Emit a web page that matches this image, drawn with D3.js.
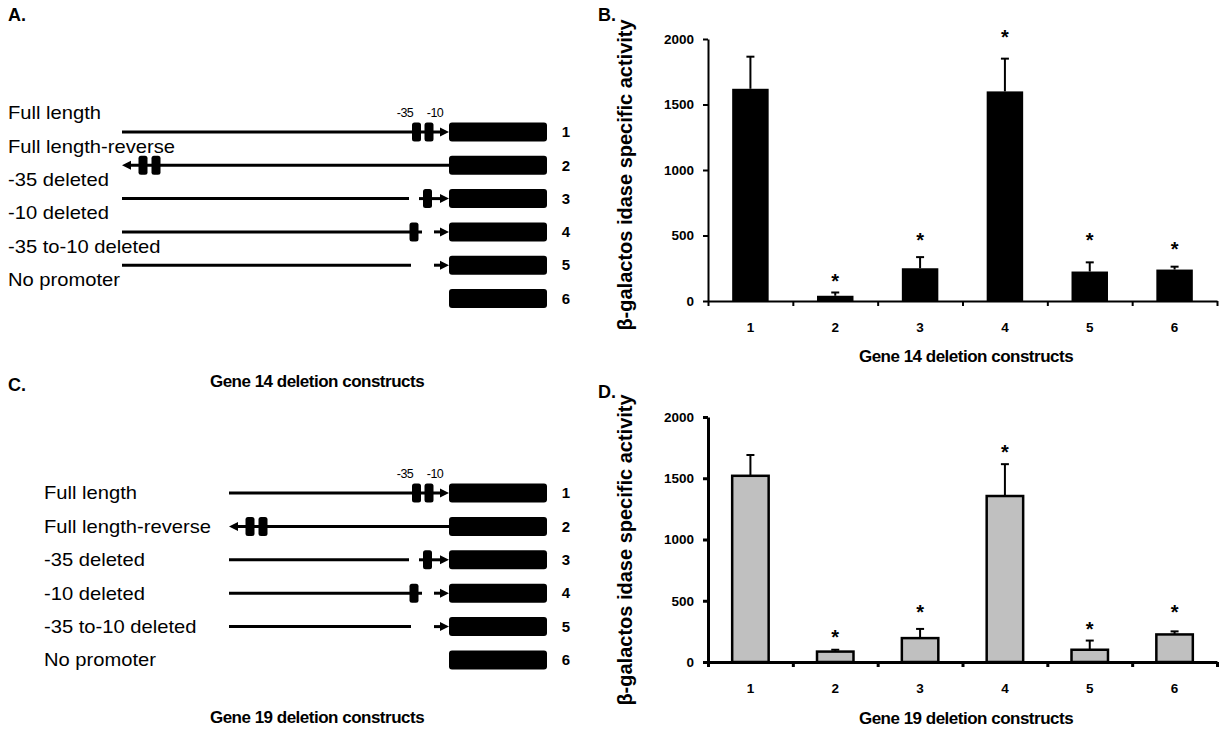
<!DOCTYPE html>
<html>
<head>
<meta charset="utf-8">
<script src="https://cdn.jsdelivr.net/npm/d3@7"></script>
<style>
  body { margin: 0; background: #fff; }
  svg { display: block; }
  text { font-family: "Liberation Sans", Arial, sans-serif; fill: #000; }
</style>
</head>
<body>
<svg id="fig" width="1225" height="729"></svg>
<script>
// construct diagrams (positions in units relative to reporter start)
let constructNames = ['Full length', 'Full length-reverse', '-35 deleted', '-10 deleted', '-35 to-10 deleted', 'No promoter']
let constructIds = ['1', '2', '3', '4', '5', '6']
let upstreamEnd = [0, 0, -40, -27, -38, null]
let stubStart = [null, null, -30, -15, -15, null]
let motifCenters = [[-32.5, -20], [], [-21.5], [-35], [], []]
let reverseMotifOffsets = [21, 34]
let pointsRight = [true, false, true, true, true, false]
let motifLabels = ['-35', '-10']
let motifLabelPos = [-44, -14]
let reporterLen = 98

// bar charts
let categories = ['1', '2', '3', '4', '5', '6']
let yTicks = [0, 500, 1000, 1500, 2000]
let gene14Mean = [1620, 40, 250, 1600, 225, 240]
let gene14Err = [245, 25, 85, 250, 70, 22]
let gene14Star = [null, 185, 495, 2045, 495, 425]
let gene19Mean = [1520, 85, 195, 1355, 100, 225]
let gene19Err = [170, 15, 75, 260, 75, 25]
let gene19Star = [null, 240, 440, 1745, 300, 440]

let svg = d3.select('#fig')
svg.append('rect').attr('width', 1225).attr('height', 729).attr('fill', '#fff')

let ux = d3.scaleLinear().domain([-330, 100]).range([119, 549])

function arrowHead(g, tip, y, dir) {
  let w = 9, h = 4.5
  g.append('path')
    .attr('d', `M${tip},${y} L${tip - dir * w},${y - h} L${tip - dir * w},${y + h} Z`)
    .attr('fill', '#000')
}

function drawConstructs(o) {
  let g = svg.append('g')
  let rowY = d3.scaleLinear().domain([0, 5]).range([o.top, o.top + 5 * o.step])

  constructNames.forEach((name, i) => {
    let y = rowY(i)

    // upstream stretch
    if (upstreamEnd[i] !== null) {
      let x0 = ux(o.start), x1 = ux(upstreamEnd[i])
      if (!pointsRight[i]) x0 += 4
      if (pointsRight[i] && upstreamEnd[i] === 0) x1 -= 8
      g.append('line').attr('x1', x0).attr('x2', x1).attr('y1', y).attr('y2', y)
        .attr('stroke', '#000').attr('stroke-width', 3)
      if (pointsRight[i] && upstreamEnd[i] === 0) arrowHead(g, ux(0), y, 1)
      if (!pointsRight[i]) arrowHead(g, ux(o.start), y, -1)
    }

    // short piece running into the reporter
    if (stubStart[i] !== null) {
      g.append('line').attr('x1', ux(stubStart[i])).attr('x2', ux(0) - 8)
        .attr('y1', y).attr('y2', y).attr('stroke', '#000').attr('stroke-width', 3)
      arrowHead(g, ux(0), y, 1)
    }

    let motifs = motifCenters[i].slice()
    if (i === 1) reverseMotifOffsets.forEach(d => motifs.push(o.start + d))
    g.selectAll(null).data(motifs).enter().append('rect')
      .attr('x', d => ux(d) - 4.5).attr('y', y - 9.5)
      .attr('width', 9).attr('height', 19).attr('rx', 2.5)
      .attr('fill', '#000')

    g.append('rect')
      .attr('x', ux(0)).attr('y', y - 9.5)
      .attr('width', ux(reporterLen) - ux(0)).attr('height', 19).attr('rx', 3)
      .attr('fill', '#000')

    g.append('text').text(constructIds[i])
      .attr('x', 566).attr('y', y).attr('dy', '0.35em')
      .attr('text-anchor', 'middle').attr('font-weight', 'bold').attr('font-size', 15)

    g.append('text').text(name)
      .attr('transform', `translate(${o.labelX},${y + o.labelDy}) scale(1.12,1)`)
      .attr('dy', '0.35em').attr('font-size', 18)
  })

  g.selectAll(null).data(motifLabels).enter().append('text')
    .text(d => d)
    .attr('x', (d, i) => ux(motifLabelPos[i]))
    .attr('y', rowY(0) - 19).attr('dy', '0.35em')
    .attr('text-anchor', 'middle').attr('font-size', 12.5)
    .attr('letter-spacing', -0.6)

  g.append('text').text(o.title)
    .attr('x', 317).attr('y', o.titleY).attr('dy', '0.35em')
    .attr('text-anchor', 'middle').attr('font-weight', 'bold').attr('font-size', 17)
    .attr('letter-spacing', -0.5)

  svg.append('text').text(o.letter)
    .attr('x', 8).attr('y', o.letterY).attr('dy', '0.35em')
    .attr('font-family', 'Lato, sans-serif').attr('font-weight', 'bold').attr('font-size', 18)
}

function drawBars(o) {
  let g = svg.append('g')
  let x = d3.scaleBand().domain(categories).range([o.x0, o.x1]).paddingInner(0.57).paddingOuter(0.285)
  let edge = d3.scaleLinear().domain([0, categories.length]).range([o.x0, o.x1])
  let y = d3.scaleLinear().domain([0, 2000]).range([o.yBottom, o.yTop])

  g.selectAll('.bar').data(categories).enter().append('rect')
    .attr('class', 'bar')
    .attr('x', d => x(d)).attr('width', x.bandwidth())
    .attr('y', (d, i) => y(o.mean[i]))
    .attr('height', (d, i) => y(0) - y(o.mean[i]))
    .attr('fill', o.fill)
    .attr('stroke', o.stroke ? '#000' : 'none')
    .attr('stroke-width', o.stroke ? 2.5 : 0)

  let cx = d => x(d) + x.bandwidth() / 2
  g.selectAll('.err').data(categories).enter().append('line')
    .attr('x1', cx).attr('x2', cx)
    .attr('y1', (d, i) => y(o.mean[i]))
    .attr('y2', (d, i) => y(o.mean[i] + o.err[i]))
    .attr('stroke', '#000').attr('stroke-width', 2)
  g.selectAll('.cap').data(categories).enter().append('line')
    .attr('x1', d => cx(d) - 4).attr('x2', d => cx(d) + 4)
    .attr('y1', (d, i) => y(o.mean[i] + o.err[i]))
    .attr('y2', (d, i) => y(o.mean[i] + o.err[i]))
    .attr('stroke', '#000').attr('stroke-width', 2)

  g.selectAll('.star').data(categories.filter((d, i) => o.star[i] !== null)).enter().append('text')
    .text('*')
    .attr('x', cx)
    .attr('y', d => y(o.star[categories.indexOf(d)]) + 11)
    .attr('text-anchor', 'middle').attr('font-size', 20).attr('font-weight', 'bold')

  // y axis
  let ya = g.append('g').attr('transform', `translate(${o.x0},0)`)
    .call(d3.axisLeft(y).tickValues(yTicks).tickFormat(d3.format('d')).tickSize(5).tickSizeOuter(0).tickPadding(9))
  ya.select('.domain').attr('stroke-width', o.axisW)
  ya.selectAll('.tick line').attr('stroke-width', o.axisW)
  ya.selectAll('text').attr('font-weight', 'bold').attr('font-size', 13.5)
    .attr('font-family', '"Liberation Sans", Arial, sans-serif')

  // x axis: boundary ticks + centred labels
  let xa = g.append('g').attr('transform', `translate(0,${o.yBottom})`)
    .call(d3.axisBottom(edge).tickValues(d3.range(categories.length + 1)).tickFormat('').tickSize(5).tickSizeOuter(0))
  xa.select('.domain').attr('stroke-width', o.axisW)
  xa.selectAll('.tick line').attr('stroke-width', o.axisW)

  let xl = g.append('g').attr('transform', `translate(0,${o.yBottom})`)
    .call(d3.axisBottom(x).tickSize(0).tickPadding(21))
  xl.select('.domain').remove()
  xl.selectAll('text').attr('font-weight', 'bold').attr('font-size', 13.5)
    .attr('font-family', '"Liberation Sans", Arial, sans-serif')

  g.append('text').text('β-galactos idase specific activity')
    .attr('transform', `translate(625,${o.labelMid}) rotate(-90)`)
    .attr('dy', '0.35em').attr('text-anchor', 'middle')
    .attr('font-weight', 'bold').attr('font-size', 20)

  g.append('text').text(o.title)
    .attr('x', 966).attr('y', o.titleY).attr('dy', '0.35em')
    .attr('text-anchor', 'middle').attr('font-weight', 'bold').attr('font-size', 17)
    .attr('letter-spacing', -0.5)

  svg.append('text').text(o.letter)
    .attr('x', 598).attr('y', o.letterY).attr('dy', '0.35em')
    .attr('font-family', 'Lato, sans-serif').attr('font-weight', 'bold').attr('font-size', 18)
}

drawConstructs({ top: 132, step: 33.3, start: -327, labelX: 8, labelDy: -19, title: 'Gene 14 deletion constructs', titleY: 381, letter: 'A.', letterY: 15 })
drawConstructs({ top: 493, step: 33.4, start: -220, labelX: 44, labelDy: 0, title: 'Gene 19 deletion constructs', titleY: 717, letter: 'C.', letterY: 385 })

drawBars({ x0: 708, x1: 1217, yTop: 39, yBottom: 301, labelMid: 175, mean: gene14Mean, err: gene14Err, star: gene14Star, fill: '#000', stroke: false, axisW: 2, title: 'Gene 14 deletion constructs', titleY: 356, letter: 'B.', letterY: 15 })
drawBars({ x0: 708, x1: 1217, yTop: 417, yBottom: 662, labelMid: 550, mean: gene19Mean, err: gene19Err, star: gene19Star, fill: '#c0c0c0', stroke: true, axisW: 3, title: 'Gene 19 deletion constructs', titleY: 718, letter: 'D.', letterY: 392 })
</script>
</body>
</html>
